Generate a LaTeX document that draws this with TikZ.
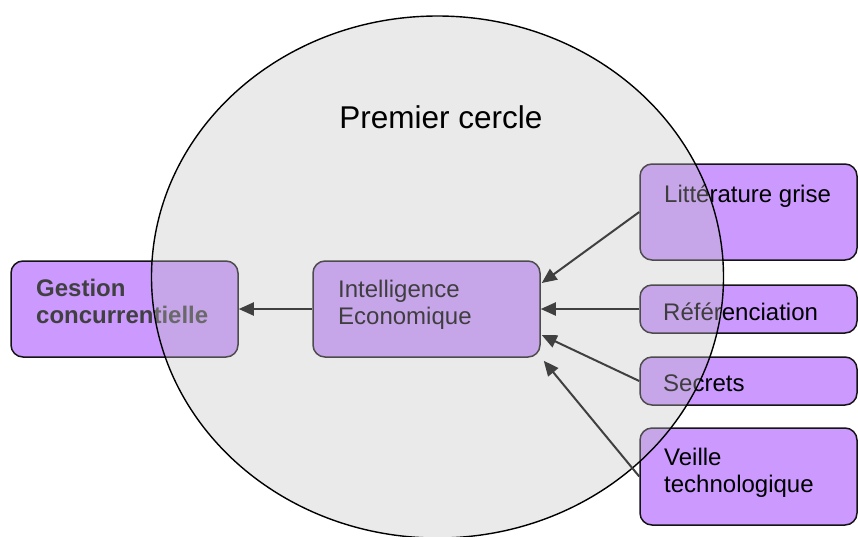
\documentclass[tikz,border=0pt]{standalone}
\usepackage{fontspec}
\setmainfont{Liberation Sans}
\usetikzlibrary{arrows.meta,calc,shapes.geometric}
\definecolor{boxpurple}{HTML}{CC99FF}
\definecolor{txtgray}{HTML}{404040}
\definecolor{arrowgray}{HTML}{404040}
\tikzset{
  box/.style={draw=black!92, line width=1.5pt, fill=boxpurple, rounded corners=12pt, inner sep=0pt},
  lbl/.style={anchor=base west, inner sep=0pt, align=left, font=\fontsize{24}{26.5}\selectfont},
  conn/.style={draw=arrowgray, line width=2pt, -{Triangle[length=15pt,width=13pt]}},
}
\begin{document}
\begin{tikzpicture}[x=1pt,y=-1pt]
\useasboundingbox (0,0) rectangle (858,536);
% boxes
\node[box, minimum width=227, minimum height=96] (gc) at (124.5,309) {};
\node[box, minimum width=227, minimum height=96] (ie) at (426.5,309) {};
\node[box, minimum width=217, minimum height=96] (lg) at (748.5,212) {};
\node[box, minimum width=217, minimum height=48] (rf) at (748.5,309) {};
\node[box, minimum width=217, minimum height=48] (sc) at (748.5,381) {};
\node[box, minimum width=217, minimum height=97] (vt) at (748.5,476.5) {};
% texts (multi-line: anchor on last line baseline)
\node[lbl, text=txtgray, font=\fontsize{24}{27}\selectfont\bfseries] (tgc) at (36,323) {Gestion\\concurrentielle};
\node[lbl, text=black] (tie) at (338,324) {Intelligence\\Economique};
\node[lbl, text=black] (tlg) at (664,202) {Littérature grise};
\node[lbl, text=black] (trf) at (663,320) {Référenciation};
\node[lbl, text=black] (tsc) at (663,391) {Secrets};
\node[lbl, text=black] (tvt) at (664,492) {Veille\\technologique};
% circle
\node[draw=black, line width=1.4pt, fill=black!25, fill opacity=0.33, ellipse,
      minimum width=572, minimum height=522, inner sep=0pt] (cercle) at (437.5,277) {};
\node[anchor=base, inner sep=0pt, font=\fontsize{31.5}{34}\selectfont] (titre) at (441,128) {Premier cercle};
% connectors
\coordinate (e1) at ($(ie.east)+(1,-26)$);
\coordinate (e3) at ($(ie.east)+(1,26)$);
\coordinate (e4) at ($(ie.south east)+(3,3)$);
\draw[conn] (ie.west) -- (gc.east);
\draw[conn] (lg.west) -- (e1);
\draw[conn] (rf.west) -- (ie.east);
\draw[conn] (sc.west) -- (e3);
\draw[conn] (vt.west) -- (e4);
\end{tikzpicture}
\end{document}
